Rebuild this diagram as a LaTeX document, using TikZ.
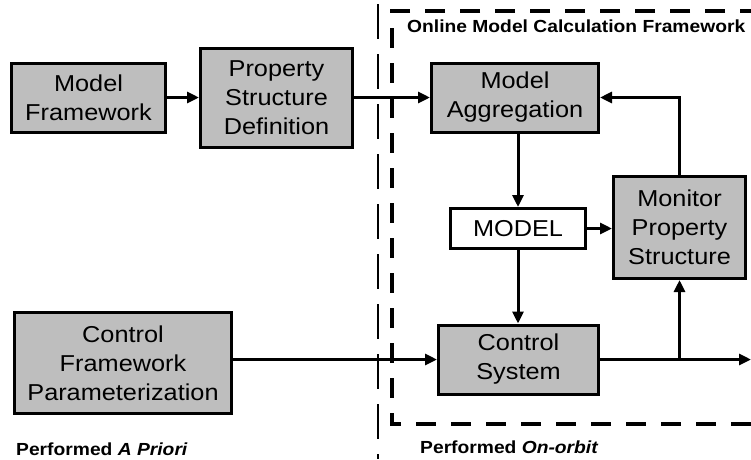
\documentclass[tikz,border=0pt]{standalone}
\usepackage{fontspec}
\setmainfont{Liberation Sans}[FakeStretch=1.1]
\usetikzlibrary{arrows.meta}
\definecolor{boxgray}{RGB}{190,190,190}
\tikzset{
  blk/.style={draw=black, line width=3pt, fill=boxgray, inner sep=0pt,
    align=center, font=\fontsize{23}{29}\selectfont},
  whiteblk/.style={blk, fill=white},
  flow/.style={line width=3pt, -{Triangle[length=12pt,width=11pt]}},
  plain/.style={line width=3pt},
  frame/.style={line width=4pt, dash pattern=on 20pt off 15pt},
  divider/.style={line width=2pt, dash pattern=on 35pt off 15pt},
  caption/.style={anchor=west, inner sep=0pt, font=\bfseries\fontsize{17.5}{20}\selectfont}
}
\begin{document}
\begin{tikzpicture}[x=1pt,y=-1pt]
\useasboundingbox (0,0) rectangle (751,459);
\clip (0,0) rectangle (751,459);

% a-priori / on-orbit divider and the online framework frame
\coordinate (dtop) at (378,4);
\coordinate (dbot) at (378,459);
\draw[divider] (dtop) -- (dbot);
\coordinate (ftr) at (760,11);
\coordinate (ftl) at (392,11);
\coordinate (fbl) at (392,424);
\coordinate (fbr) at (760,424);
\draw[frame] (ftr) -- (ftl) -- (fbl) -- (fbr);

% blocks
\node[blk, minimum width=154pt, minimum height=69pt] (mf) at (88.5,97.5) {Model\\Framework};
\node[blk, minimum width=152pt, minimum height=99pt] (psd) at (276.5,97.5) {Property\\Structure\\Definition};
\node[blk, minimum width=167pt, minimum height=69pt] (agg) at (515,97.5) {Model\\Aggregation};
\node[whiteblk, minimum width=135pt, minimum height=40pt] (model) at (518,228.5) {MODEL};
\node[blk, minimum width=132pt, minimum height=102pt] (mon) at (679.5,227.5) {Monitor\\Property\\Structure};
\node[blk, minimum width=160pt, minimum height=69pt] (ctl) at (518.5,359.5) {Control\\System};
\node[blk, minimum width=217pt, minimum height=101pt] (cfp) at (123,363) {Control\\Framework\\Parameterization};

% captions
\node[caption] (ttl) at (407,26) {Online Model Calculation Framework};
\node[caption] (lpri) at (16,449) {Performed \textit{A Priori}};
\node[caption] (lorb) at (420,447) {Performed \textit{On-orbit}};

% connectors
\coordinate (out) at (751,359.5);
\draw[flow] (mf) -- (psd);
\draw[flow] (psd) -- (agg);
\draw[flow] (agg.south -| model.north) -- (model.north);
\draw[flow] (model.south) -- (model.south |- ctl.north);
\draw[flow] (model.east) -- (model.east -| mon.west);
\draw[flow] (ctl.west -| cfp.east) -- (ctl.west);
\draw[flow] (ctl.east) -- (out);
\draw[flow] (ctl.east -| mon.south) -- (mon.south);
\draw[flow] (mon.north) |- (agg.east);
\end{tikzpicture}
\end{document}
